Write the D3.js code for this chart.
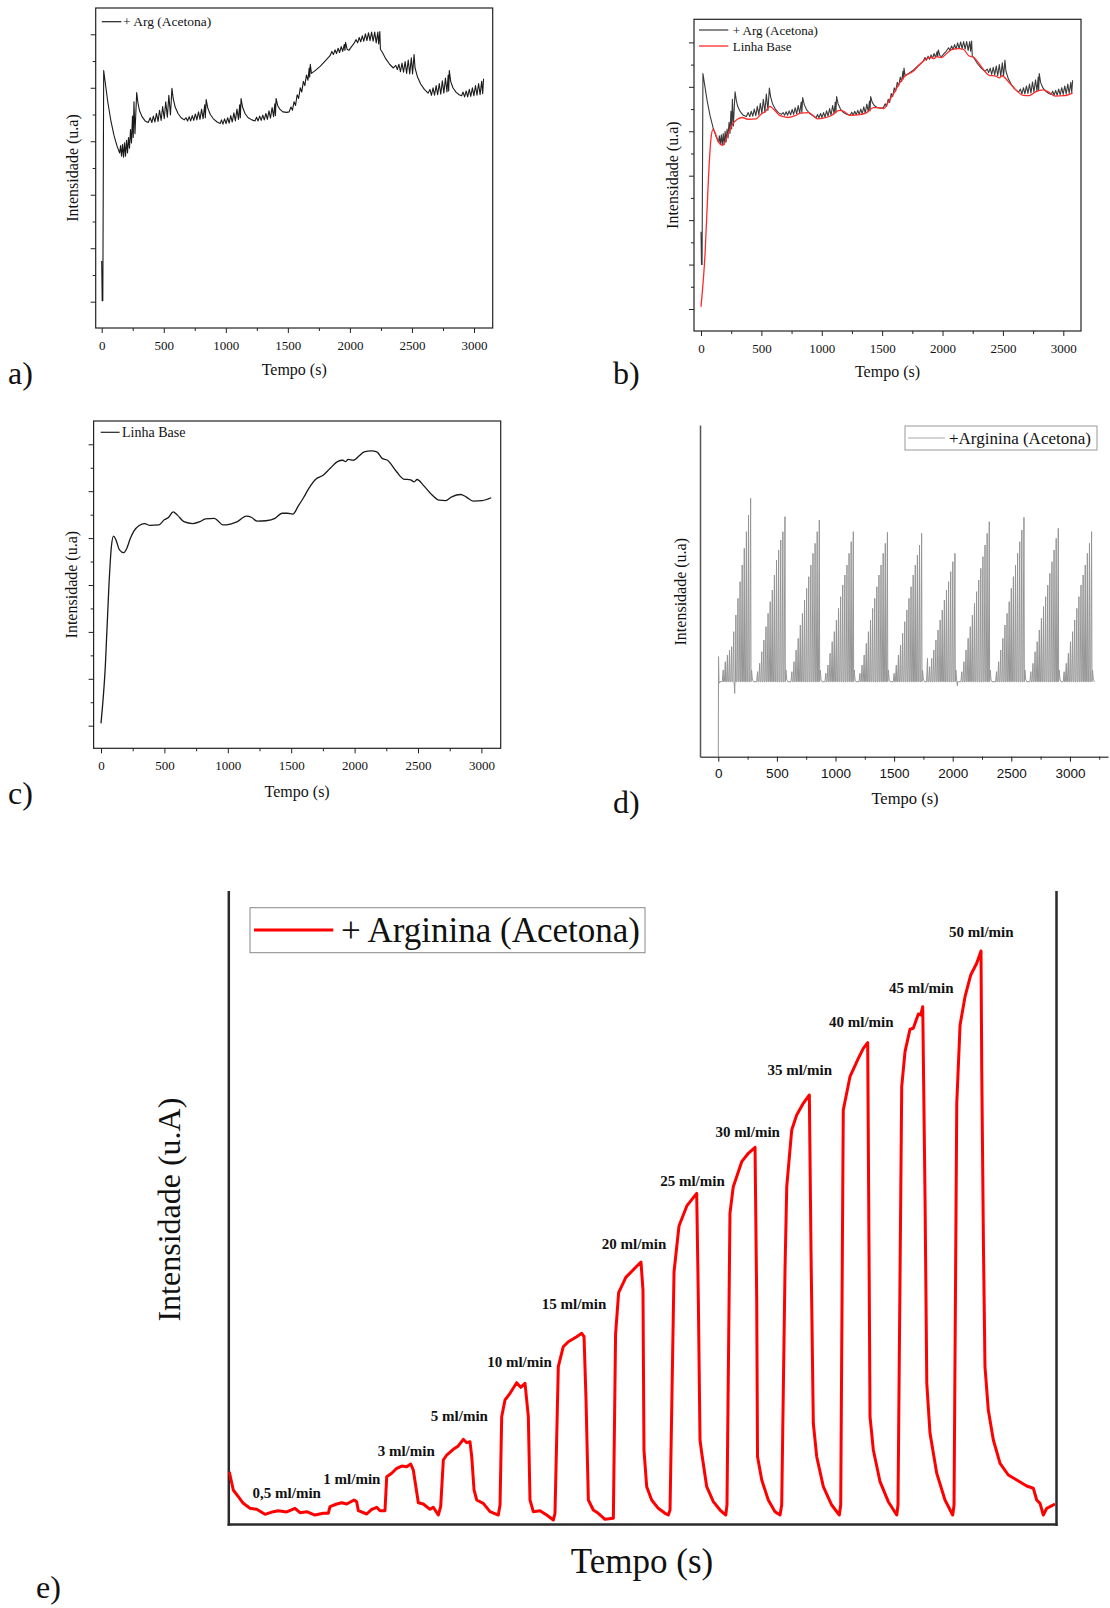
<!DOCTYPE html>
<html>
<head>
<meta charset="utf-8">
<script src="https://cdn.jsdelivr.net/npm/d3@7"></script>
<style>
  body { margin: 0; background: #fff; }
</style>
</head>
<body>
<svg id="fig" width="1110" height="1608"></svg>
<script>
// ---- data ----
const timeTicks = [0, 500, 1000, 1500, 2000, 2500, 3000];
const timeMinor = [250, 750, 1250, 1750, 2250, 2750];
const timeMinorD = [250, 750, 1250, 1750, 2250, 2750, 3250];

// "+ Arg (Acetona)" trace, shared by a) and b) (arbitrary units)
const argTrace = [
  [0,1.74],[4,1.0],[9,1.0],[16,5.30],[30,5.05],[50,4.70],[75,4.35],[100,4.08],[125,3.88],[145,3.76],
  [152,3.90],[160,3.70],[168,3.92],[176,3.68],[184,3.95],[192,3.70],[200,4.00],[208,3.76],[216,4.05],[224,3.85],[232,4.20],[240,3.95],[248,4.45],[254,4.05],[260,4.72],[268,4.12],[282,4.89],
  [292,4.70],[305,4.55],[325,4.44],[350,4.36],[375,4.33],
  [391,4.42],[404,4.33],[416,4.45],[429,4.34],[441,4.50],[454,4.35],[466,4.56],[479,4.37],[491,4.63],[504,4.40],[516,4.72],[529,4.43],[541,4.84],[554,4.47],[566,4.97],
  [576,4.78],[592,4.62],[615,4.50],[640,4.42],[665,4.38],
  [680,4.42],[692,4.36],[705,4.44],[717,4.36],[730,4.46],[742,4.37],[755,4.49],[767,4.38],[780,4.53],[792,4.39],[805,4.58],[817,4.40],[830,4.66],[835,4.42],[842,4.76],
  [855,4.60],[875,4.48],[900,4.40],[930,4.34],[955,4.31],
  [965,4.38],[977,4.30],[990,4.40],[1002,4.31],[1015,4.42],[1027,4.32],[1040,4.46],[1052,4.34],[1065,4.51],[1077,4.36],[1090,4.58],[1102,4.39],[1112,4.66],[1117,4.42],[1123,4.78],
  [1135,4.62],[1155,4.50],[1180,4.42],[1210,4.38],[1235,4.36],
  [1248,4.43],[1260,4.36],[1273,4.45],[1285,4.37],[1298,4.47],[1310,4.38],[1323,4.50],[1335,4.39],[1348,4.55],[1360,4.41],[1373,4.61],[1385,4.44],[1395,4.68],[1400,4.46],[1405,4.78],
  [1418,4.65],[1435,4.58],[1460,4.53],[1490,4.52],[1510,4.53],
  [1525,4.62],[1537,4.56],[1550,4.72],[1562,4.65],[1575,4.85],[1587,4.78],[1600,4.98],[1612,4.90],[1625,5.10],[1637,5.02],[1650,5.22],[1662,5.12],[1672,5.35],[1676,5.18],[1681,5.42],
  [1690,5.25],[1720,5.30],[1760,5.38],[1800,5.48],[1840,5.58],
  [1855,5.66],[1867,5.60],[1880,5.69],[1892,5.62],[1905,5.72],[1917,5.64],[1930,5.75],[1942,5.66],[1955,5.79],[1960,5.68],[1965,5.83],
  [1978,5.70],[1992,5.68],[2010,5.74],[2030,5.80],
  [2050,5.88],[2062,5.82],[2075,5.92],[2087,5.84],[2100,5.95],[2112,5.85],[2125,5.99],[2137,5.86],[2150,6.01],[2162,5.86],[2175,6.02],[2187,5.85],[2200,6.02],[2212,5.82],[2225,6.02],[2232,5.80],[2241,6.03],
  [2246,5.70],[2260,5.65],[2290,5.52],[2320,5.42],[2350,5.35],
  [2370,5.40],[2382,5.32],[2395,5.42],[2407,5.28],[2420,5.44],[2432,5.27],[2445,5.47],[2457,5.25],[2470,5.50],[2482,5.24],[2495,5.54],[2505,5.24],[2517,5.60],
  [2525,5.35],[2545,5.18],[2570,5.05],[2600,4.95],[2630,4.88],
  [2645,4.95],[2657,4.84],[2670,4.98],[2682,4.84],[2695,5.02],[2707,4.85],[2720,5.06],[2732,4.86],[2745,5.11],[2757,4.88],[2770,5.16],[2782,4.90],[2792,5.22],[2796,4.92],[2801,5.30],
  [2812,5.10],[2830,4.98],[2855,4.90],[2880,4.85],[2900,4.83],
  [2912,4.90],[2924,4.81],[2937,4.92],[2949,4.81],[2962,4.95],[2974,4.82],[2987,4.98],[2999,4.83],[3012,5.02],[3024,4.84],[3037,5.06],[3049,4.85],[3062,5.10],[3070,4.87],[3077,5.15]
];

// "Linha Base" trace, shared by b) and c)
const baseTrace = [
  [0,0.05],[34,1.26],[62,2.96],[82,3.82],[99,4.04],[118,3.96],[146,3.75],[180,3.69],[203,3.78],[231,3.99],
  [259,4.15],[301,4.27],[344,4.31],[386,4.27],[456,4.28],[499,4.39],[532,4.44],[569,4.56],[603,4.49],[654,4.35],
  [724,4.31],[780,4.35],[823,4.41],[893,4.42],[921,4.37],[963,4.28],[1020,4.30],[1076,4.35],[1146,4.47],[1189,4.44],
  [1231,4.36],[1301,4.37],[1372,4.42],[1428,4.53],[1470,4.53],[1513,4.51],[1555,4.68],[1597,4.86],[1639,5.06],[1696,5.26],
  [1752,5.34],[1808,5.49],[1865,5.63],[1907,5.66],[1930,5.63],[1949,5.68],[1992,5.66],[2034,5.75],[2076,5.84],[2132,5.86],
  [2175,5.84],[2217,5.70],[2259,5.66],[2330,5.42],[2386,5.26],[2442,5.24],[2470,5.20],[2493,5.25],[2541,5.13],[2611,4.92],
  [2667,4.81],[2718,4.80],[2766,4.88],[2836,4.93],[2879,4.88],[2935,4.79],[3006,4.80],[3077,4.86]
];

// d) +Arginina (Acetona): pulse trains, one list of spike heights per cycle
const dPeakTimes = [276, 569, 862, 1152, 1443, 1735, 2019, 2312, 2608, 2901, 3185];
const dSpikeGap = 18;
const dTops = [
  [0.35,0.6,0.8,0.95,1.05,1.5,2.0,2.5,3.0,3.5,4.0,4.5,5.0,5.5],
  [0.3,0.55,0.9,1.25,1.65,2.05,2.4,2.75,3.2,3.65,3.95,4.25,4.5,4.95],
  [0.3,0.6,0.95,1.3,1.7,2.05,2.45,2.8,3.15,3.5,3.85,4.15,4.5,4.85],
  [0.25,0.5,0.85,1.2,1.5,1.85,2.2,2.55,2.9,3.2,3.5,3.85,4.2,4.5],
  [0.25,0.5,0.8,1.15,1.5,1.85,2.2,2.5,2.85,3.2,3.5,3.85,4.15,4.48],
  [0.25,0.5,0.8,1.1,1.45,1.8,2.15,2.5,2.85,3.2,3.5,3.8,4.1,4.45],
  [0.7,0.45,0.7,0.95,1.25,1.55,1.85,2.15,2.45,2.75,3.0,3.3,3.6,3.85],
  [0.3,0.6,0.95,1.3,1.65,2.0,2.35,2.7,3.05,3.4,3.75,4.1,4.45,4.8],
  [0.3,0.6,0.95,1.3,1.7,2.05,2.4,2.8,3.15,3.5,3.85,4.2,4.55,4.93],
  [0.3,0.55,0.9,1.2,1.55,1.9,2.25,2.55,2.9,3.25,3.6,3.95,4.3,4.6],
  [0.3,0.55,0.85,1.2,1.5,1.85,2.2,2.55,2.9,3.2,3.5,3.85,4.15,4.5]
];
const dStart = [[0,-2.3],[2,0.75],[6,-0.05],[14,0]];
const dDips = [[140,-0.35],[146,0],[2040,-0.12],[2050,0]];

// e) flow steps
const eTrace = [
  [1.2,8.27],[6.0,5.38],[12.1,4.32],[18.1,3.27],[26.2,2.48],[34.3,2.32],[44.3,1.53],[54.4,1.95],[60.4,2.10],[70.6,1.90],
  [80.6,2.48],[86.6,1.79],[94.7,1.95],[104.7,1.42],[114.8,1.69],[120.8,1.69],[122.9,2.74],[131.0,3.16],[137.0,3.37],[143.1,3.16],
  [151.9,3.80],[155.1,3.53],[157.1,2.10],[167.2,1.58],[173.3,2.32],[179.3,2.64],[183.3,2.10],[189.3,2.10],
  [191.4,7.48],[197.4,8.02],[203.5,8.81],[209.5,9.17],[215.5,9.06],[220.4,9.49],[223.5,8.54],[229.6,3.37],[235.6,3.16],[243.7,2.32],[247.7,2.64],[253.7,1.42],[256.6,2.74],
  [259.8,10.12],[263.9,10.91],[271.8,11.81],[277.9,12.34],[283.9,13.40],[288.0,12.86],[292.0,13.02],[294.1,10.64],[296.9,5.38],[300.1,3.80],[308.1,3.27],[316.2,1.95],[326.2,1.42],[328.3,3.0],
  [330.3,16.97],[334.3,19.61],[340.4,20.67],[348.4,22.35],[353.3,21.62],[358.5,22.25],[362.5,16.97],[364.5,3.80],[368.5,1.95],[376.6,2.10],[384.7,1.42],[392.7,0.63],[394.7,1.69],
  [398.7,24.88],[404.7,28.04],[410.8,28.83],[420.9,29.62],[427.0,30.16],[429.8,29.62],[432.2,19.61],[435.0,3.80],[441.0,2.21],[447.0,1.69],[455.1,0.74],[465.2,0.90],
  [467.9,30.08],[471.6,36.58],[480.3,39.00],[492.6,40.65],[498.6,41.44],[501.0,37.0],[502.2,11.70],[505.5,5.90],[511.5,3.80],[519.5,2.48],[527.6,1.69],[531.6,1.42],[533.7,2.21],
  [538.5,39.85],[544.5,47.13],[554.2,50.36],[565.9,52.30],[567.9,35.4],[569.9,13.28],[572.0,11.18],[578.0,5.90],[586.0,3.53],[594.1,2.21],[601.0,1.42],[602.5,3.0],
  [606.1,49.14],[610.1,53.35],[620.3,57.30],[628.3,58.63],[636.4,59.58],[638.4,35.4],[639.4,10.64],[644.5,6.96],[652.4,3.80],[660.5,1.95],[666.6,1.42],[668.6,3.0],
  [672.6,40.17],[674.7,53.35],[680.7,62.31],[686.7,64.68],[694.7,66.53],[702.0,67.85],[704.0,43.33],[706.8,15.93],[710.9,10.64],[718.9,5.90],[729.0,3.0],[738.2,1.42],[739.9,3.0],
  [743.0,65.48],[751.1,70.74],[761.2,73.65],[767.2,75.23],[772.5,76.12],[774.1,43.33],[775.3,16.97],[779.3,11.70],[787.4,6.69],[797.4,3.53],[807.6,1.42],[809.1,3.0],
  [813.6,69.16],[817.6,74.70],[823.6,78.24],[827.6,78.40],[833.7,80.66],[836.5,80.50],[839.0,81.81],[841.8,51.24],[843.9,22.25],[847.8,14.34],[855.9,8.02],[865.9,3.80],[875.2,1.42],[876.8,3.0],
  [880.1,66.53],[884.1,78.92],[890.1,83.39],[897.0,86.83],[904.2,88.68],[909.4,90.62],[910.3,71.80],[912.4,43.33],[914.2,24.88],[918.2,18.03],[924.3,13.28],[932.4,9.60],
  [942.4,7.75],[952.6,6.96],[964.6,6.01],[972.6,5.65],[976.7,3.80],[980.7,3.27],[984.7,1.42],[988.8,2.48],[992.8,2.74],[998.8,3.16]
];
const eLabels = ["0,5 ml/min", "1 ml/min", "3 ml/min", "5 ml/min", "10 ml/min", "15 ml/min", "20 ml/min",
                 "25 ml/min", "30 ml/min", "35 ml/min", "40 ml/min", "45 ml/min", "50 ml/min"];
const eLabelT = [70.6, 149.3, 215.0, 279.2, 351.8, 417.7, 490.2, 560.8, 627.5, 690.4, 764.8, 837.3, 909.8];
const eLabelV = [4.06, 6.28, 10.75, 16.34, 24.88, 34.0, 43.5, 53.46, 61.16, 71.0, 78.55, 84.03, 92.88];

// ---- drawing ----
const svg = d3.select("#fig");
const serif = '"Liberation Serif", "Times New Roman", serif';
const sans = '"Liberation Sans", Arial, sans-serif';

let clipCount = 0;
function clip(x0, y0, x1, y1) {
  const id = "clip" + (clipCount++);
  svg.append("clipPath").attr("id", id).append("rect")
    .attr("x", x0).attr("y", y0).attr("width", x1 - x0).attr("height", y1 - y0);
  return "url(#" + id + ")";
}

function text(x, y, str, size, opts) {
  opts = opts || {};
  const t = svg.append("text")
    .attr("x", x).attr("y", y)
    .attr("font-family", opts.font || serif)
    .attr("font-size", size)
    .attr("fill", opts.fill || "#111")
    .attr("text-anchor", opts.anchor || "start")
    .text(str);
  if (opts.bold) t.attr("font-weight", "bold");
  if (opts.rotate) t.attr("transform", `rotate(-90,${x},${y})`);
  return t;
}

function xAxisTicks(x, y0, base, font, size, minor) {
  const gMaj = svg.append("g").attr("transform", `translate(0,${y0})`)
    .call(d3.axisBottom(x).tickValues(timeTicks).tickSize(5).tickSizeOuter(0).tickFormat(d3.format("d")));
  gMaj.select(".domain").remove();
  gMaj.attr("font-family", font).attr("font-size", size);
  gMaj.selectAll("text").attr("y", base - y0).attr("dy", null).attr("fill", "#111");
  gMaj.selectAll("line").attr("stroke", "#222");
  const gMin = svg.append("g").attr("transform", `translate(0,${y0})`)
    .call(d3.axisBottom(x).tickValues(minor).tickSize(3).tickSizeOuter(0).tickFormat(""));
  gMin.select(".domain").remove();
  gMin.selectAll("line").attr("stroke", "#222");
}

function yAxisTicks(y, x0, major, minor) {
  const gMaj = svg.append("g").attr("transform", `translate(${x0},0)`)
    .call(d3.axisLeft(y).tickValues(major).tickSize(5).tickSizeOuter(0).tickFormat(""));
  gMaj.select(".domain").remove();
  gMaj.selectAll("line").attr("stroke", "#222");
  const gMin = svg.append("g").attr("transform", `translate(${x0},0)`)
    .call(d3.axisLeft(y).tickValues(minor).tickSize(3).tickSizeOuter(0).tickFormat(""));
  gMin.select(".domain").remove();
  gMin.selectAll("line").attr("stroke", "#222");
}

function boxedPanel(p) {
  svg.append("rect")
    .attr("x", p.left).attr("y", p.top)
    .attr("width", p.right - p.left).attr("height", p.bottom - p.top)
    .attr("fill", "none").attr("stroke", "#222").attr("stroke-width", 1.2);
  xAxisTicks(p.x, p.bottom, p.tickBase, serif, 13, timeMinor);
  yAxisTicks(p.y, p.left, p.yMajor, p.yMinor);
  text((p.left + p.right) / 2, p.titleBase, "Tempo (s)", 16, { anchor: "middle" });
  text(p.yTitleX, (p.top + p.bottom) / 2, "Intensidade (u.a)", 16, { anchor: "middle", rotate: true });
  return clip(p.left, p.top, p.right, p.bottom);
}

function trace(data, x, y, color, width, clipUrl, curve) {
  svg.append("path")
    .datum(data)
    .attr("clip-path", clipUrl)
    .attr("fill", "none")
    .attr("stroke", color)
    .attr("stroke-width", width)
    .attr("stroke-linejoin", "round")
    .attr("d", d3.line().x(d => x(d[0])).y(d => y(d[1])).curve(curve || d3.curveLinear));
}

// a)
const xA = d3.scaleLinear().domain([0, 3000]).range([101.7, 474]);
const yA = d3.scaleLinear().domain([0.98, 5.98]).range([301.7, 34.3]);
const clipA = boxedPanel({
  left: 95.7, right: 492.7, top: 8, bottom: 328, x: xA, y: yA,
  yMajor: d3.range(0, 6).map(k => 0.98 + k), yMinor: d3.range(0, 5).map(k => 1.48 + k),
  tickBase: 350, titleBase: 375, yTitleX: 78
});
trace(argTrace, xA, yA, "#1a1a1a", 1.1, clipA);
svg.append("line").attr("x1", 101.8).attr("x2", 121.4).attr("y1", 21.7).attr("y2", 21.7)
  .attr("stroke", "#222").attr("stroke-width", 1.2);
text(123, 26, "+ Arg (Acetona)", 13.5);
text(8, 384, "a)", 32);

// b)
const xB = d3.scaleLinear().domain([0, 3000]).range([701, 1063.3]);
const yB = d3.scaleLinear().domain([0, 6]).range([309, 42.4]);
const clipB = boxedPanel({
  left: 694, right: 1081, top: 19.3, bottom: 331, x: xB, y: yB,
  yMajor: d3.range(0, 7), yMinor: d3.range(0.5, 6, 1),
  tickBase: 352.5, titleBase: 377, yTitleX: 678.5
});
trace(argTrace, xB, yB, "#3a3a3a", 1.1, clipB);
trace(baseTrace, xB, yB, "#ff2a2a", 1.3, clipB, d3.curveMonotoneX);
svg.append("line").attr("x1", 699).attr("x2", 728.3).attr("y1", 30).attr("y2", 30)
  .attr("stroke", "#3a3a3a").attr("stroke-width", 1.2);
text(732.7, 34.5, "+ Arg (Acetona)", 13);
svg.append("line").attr("x1", 699).attr("x2", 728.3).attr("y1", 46).attr("y2", 46)
  .attr("stroke", "#ff2a2a").attr("stroke-width", 1.3);
text(732.7, 50.5, "Linha Base", 13);
text(613, 384, "b)", 32);

// c)
const xC = d3.scaleLinear().domain([0, 3000]).range([101, 481.4]);
const yC = d3.scaleLinear().domain([0, 6]).range([725.7, 444.3]);
const clipC = boxedPanel({
  left: 93.6, right: 500.7, top: 421, bottom: 748.3, x: xC, y: yC,
  yMajor: d3.range(0, 7), yMinor: d3.range(0.5, 6, 1),
  tickBase: 770.5, titleBase: 797, yTitleX: 77.5
});
trace(baseTrace, xC, yC, "#1a1a1a", 1.3, clipC, d3.curveMonotoneX);
svg.append("line").attr("x1", 100.7).attr("x2", 119.6).attr("y1", 432.3).attr("y2", 432.3)
  .attr("stroke", "#222").attr("stroke-width", 1.2);
text(122, 437, "Linha Base", 14);
text(8, 804, "c)", 32);

// d)
const xD = d3.scaleLinear().domain([-156, 3325]).range([700, 1108]);
const yD = d3.scaleLinear().domain([-2.25, 7.7]).range([756.7, 425]);
const gDy = svg.append("g").attr("transform", "translate(700,0)")
  .call(d3.axisLeft(yD).tickValues([]).tickSizeOuter(0));
gDy.select(".domain").attr("stroke", "#555").attr("stroke-width", 1.5);
const gDx = svg.append("g").attr("transform", "translate(0,756.7)")
  .call(d3.axisBottom(xD).tickValues([]).tickSizeOuter(0));
gDx.select(".domain").attr("stroke", "#555").attr("stroke-width", 1.5);
xAxisTicks(xD, 756.7, 778, sans, 13.5, timeMinorD);

const dPoints = dStart.concat(dDips);
dPeakTimes.forEach((tp, i) => {
  const tops = dTops[i];
  tops.forEach((v, j) => {
    const ts = tp - dSpikeGap * (tops.length - 1 - j);
    dPoints.push([ts - 8, 0], [ts, v], [ts + 3, 0]);
  });
  dPoints.push([tp + 8, 0.35], [tp + 14, 0.08], [tp + 24, 0]);
});
dPoints.sort((a, b) => a[0] - b[0]);
const clipD = clip(700, 425, 1108, 756.7);
trace(dPoints, xD, yD, "#959595", 1, clipD);
svg.append("rect").attr("x", 905).attr("y", 426).attr("width", 192).attr("height", 24)
  .attr("fill", "#fff").attr("stroke", "#999").attr("stroke-width", 1);
svg.append("line").attr("x1", 908).attr("x2", 945).attr("y1", 438).attr("y2", 438)
  .attr("stroke", "#aaa").attr("stroke-width", 1.2);
text(949, 444, "+Arginina (Acetona)", 17);
text(905, 804, "Tempo (s)", 16.5, { anchor: "middle" });
text(686, 591.7, "Intensidade (u.a)", 16, { anchor: "middle", rotate: true });
text(613, 813, "d)", 32);

// e)
const xE = d3.scaleLinear().domain([0, 1000]).range([228.3, 1056]);
const yE = d3.scaleLinear().domain([0, 100]).range([1524, 891.7]);
[
  svg.append("g").attr("transform", "translate(228.3,0)").call(d3.axisLeft(yE).tickValues([]).tickSizeOuter(0)),
  svg.append("g").attr("transform", "translate(1056,0)").call(d3.axisRight(yE).tickValues([]).tickSizeOuter(0)),
  svg.append("g").attr("transform", "translate(0,1524)").call(d3.axisBottom(xE).tickValues([]).tickSizeOuter(0))
].forEach(g => g.select(".domain").attr("stroke", "#2a2a2a").attr("stroke-width", 2.5).attr("stroke-linecap", "square"));

const clipE = clip(228.3, 880, 1056, 1524);
trace(eTrace, xE, yE, "#ff0000", 3, clipE);

eLabels.forEach((s, i) => {
  text(xE(eLabelT[i]), yE(eLabelV[i]), s, 15, { anchor: "middle", bold: true });
});

svg.append("rect").attr("x", 250).attr("y", 907.7).attr("width", 395).attr("height", 45)
  .attr("fill", "#fff").attr("stroke", "#888").attr("stroke-width", 1);
svg.append("line").attr("x1", 254).attr("x2", 333.3).attr("y1", 930).attr("y2", 930)
  .attr("stroke", "#ff0000").attr("stroke-width", 3);
text(341, 941.5, "+ Arginina (Acetona)", 35);
text(642, 1573, "Tempo (s)", 35, { anchor: "middle" });
text(180, 1209.6, "Intensidade (u.A)", 32, { anchor: "middle", rotate: true });
text(36, 1598, "e)", 32);
</script>
</body>
</html>
